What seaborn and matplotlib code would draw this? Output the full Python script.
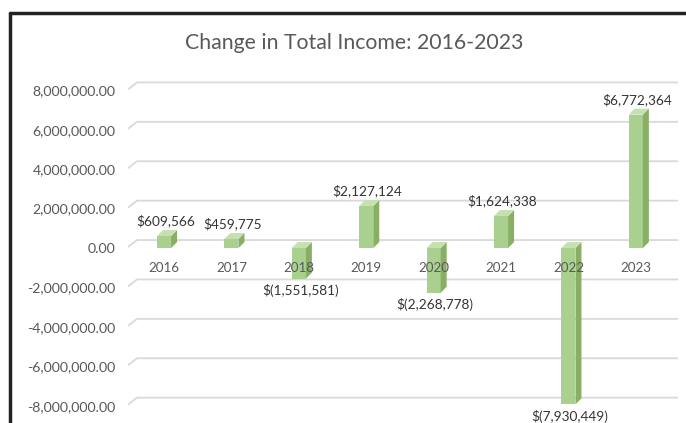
import matplotlib
matplotlib.use("Agg")
import matplotlib.pyplot as plt
from matplotlib.lines import Line2D
from matplotlib.patches import Polygon
import seaborn as sns
import pandas as pd

# Year-over-year change in total income
years = ["2016", "2017", "2018", "2019", "2020", "2021", "2022", "2023"]
changes = [609566, 459775, -1551581, 2127124, -2268778, 1624338, -7930449, 6772364]
y_ticks = [-8e6, -6e6, -4e6, -2e6, 0, 2e6, 4e6, 6e6, 8e6]
title = "Change in Total Income: 2016-2023"

FRONT = "#a9d08e"
SIDE = "#88af64"
TOP = "#c6e1b0"
GRID = "#d9d9d9"
TEXT = "#595959"
LABEL = "#333333"

sns.set_theme(style="white")
plt.rcParams["font.family"] = ["Lato", "DejaVu Sans"]

W, H = 686, 423
LEFT = 128
fig = plt.figure(figsize=(W / 100, H / 100), dpi=100)
ax = fig.add_axes([LEFT / W, 0, (W - LEFT) / W, 1])

df = pd.DataFrame({"year": years, "change": changes})
sns.barplot(data=df, x="year", y="change", color=FRONT, width=0.21,
            saturation=1, ax=ax, zorder=3, edgecolor="none")

XL = (-0.534, 7.745)
YL = (-8.88e6, 12.59e6)
ax.set_xlim(*XL)
ax.set_ylim(*YL)
for s in ax.spines.values():
    s.set_visible(False)
ax.set_xlabel("")
ax.set_ylabel("")
ax.set_xticks([])
ax.set_yticks(y_ticks)
ax.set_yticklabels([f"{t:,.2f}" for t in y_ticks])
ax.tick_params(axis="y", length=0, pad=9, labelsize=10.2, labelcolor=TEXT)

# pixel -> data unit conversions for the 3-D look
px_x = (XL[1] - XL[0]) / (W - LEFT)
px_y = (YL[1] - YL[0]) / H

# gridlines sit on the back wall, joined to the front plane by a short slant
for t in y_ticks:
    ax.plot([XL[0], XL[0] + 9 * px_x, XL[0] + 550 * px_x],
            [t + 1 * px_y, t + 8 * px_y, t + 8 * px_y],
            color=GRID, lw=1.3, zorder=1, solid_capstyle="butt")

# side and top faces of each bar
ddx, ddy = 6 * px_x, 6 * px_y
for p in list(ax.patches):
    x0, w = p.get_x(), p.get_width()
    y0, h = p.get_y(), p.get_height()
    bot, top = min(y0, y0 + h), max(y0, y0 + h)
    ax.add_patch(Polygon([(x0 + w, bot), (x0 + w, top), (x0 + w + ddx, top + ddy),
                          (x0 + w + ddx, bot + ddy)], closed=True, fc=SIDE,
                         ec="none", zorder=3))
    ax.add_patch(Polygon([(x0, top), (x0 + w, top), (x0 + w + ddx, top + ddy),
                          (x0 + ddx, top + ddy)], closed=True, fc=TOP,
                         ec="none", zorder=3))

# value labels
for i, v in enumerate(changes):
    if v >= 0:
        txt = f"${v:,.0f}"
        ax.annotate(txt, (i, v), xytext=(1, 11), textcoords="offset points",
                    ha="center", va="center", fontsize=9.8, color=LABEL, zorder=5)
    else:
        txt = f"$({-v:,.0f})"
        ax.annotate(txt, (i, v), xytext=(1, -8.5), textcoords="offset points",
                    ha="center", va="center", fontsize=9.8, color=LABEL, zorder=5)

# category labels sit just under the zero line
for i, yr in enumerate(years):
    ax.annotate(yr, (i, 0), xytext=(0, -14.5), textcoords="offset points",
                ha="center", va="center", fontsize=9.6, color=TEXT, zorder=6)

fig.text(354 / W, 1 - 43 / H, title, ha="center", va="center",
         fontsize=15.3, color=TEXT)

# outer frame (top and left edges)
fig.add_artist(Line2D([10 / W, 10 / W], [0, 1 - 13 / H], color="#222222", lw=2.5))
fig.add_artist(Line2D([10 / W, 1], [1 - 13 / H, 1 - 13 / H], color="#222222", lw=2.5))

fig.savefig("out.png", dpi=100)
